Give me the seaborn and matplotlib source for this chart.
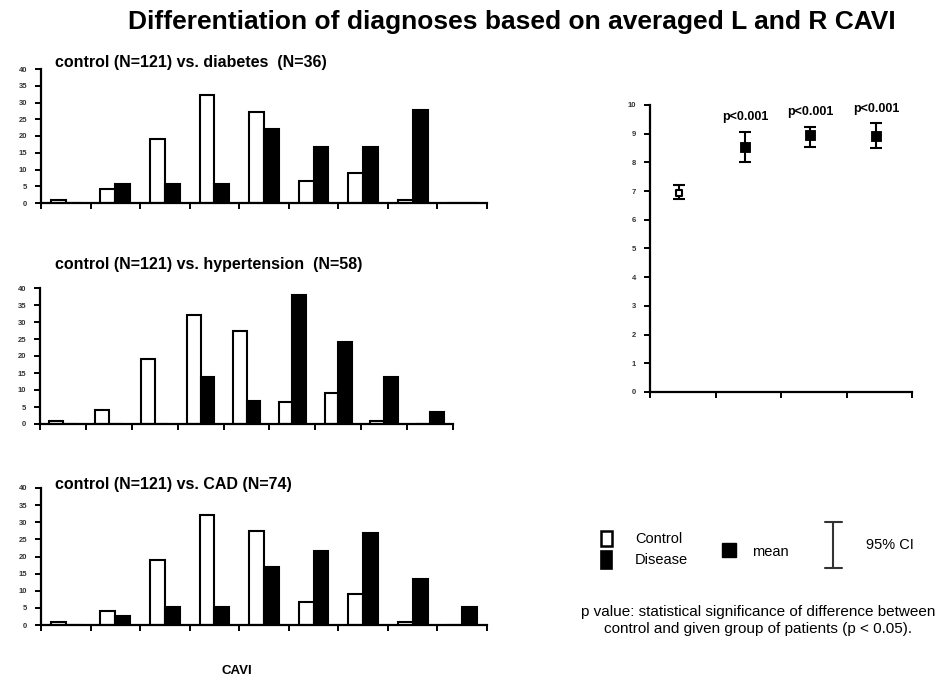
import numpy as np
import pandas as pd
import matplotlib
matplotlib.use("Agg")
import matplotlib.pyplot as plt
from matplotlib.patches import Rectangle
import seaborn as sns

sns.set_style("ticks")
plt.rcParams["font.family"] = ["Liberation Sans", "DejaVu Sans"]
plt.rcParams["text.color"] = "black"

# CAVI classes (percentage of patients in each class)
cavi_bins = ["c1", "c2", "c3", "c4", "c5", "c6", "c7", "c8", "c9"]
control_pct = [0.8, 4.1, 19.0, 32.2, 27.3, 6.6, 9.1, 0.8, 0.0]
diabetes_pct = [0.0, 5.6, 5.6, 5.6, 22.2, 16.7, 16.7, 27.8, 0.0]
hypertension_pct = [0.0, 0.0, 0.0, 13.8, 6.9, 37.9, 24.1, 13.8, 3.4]
cad_pct = [0.0, 2.7, 5.4, 5.4, 16.9, 21.6, 27.0, 13.5, 5.4]

panel_titles = [
    "control (N=121) vs. diabetes  (N=36)",
    "control (N=121) vs. hypertension  (N=58)",
    "control (N=121) vs. CAD (N=74)",
]

# mean CAVI with 95% confidence interval per group
groups = ["control", "diabetes", "hypertension", "CAD"]
cavi_mean = [6.95, 8.55, 8.95, 8.92]
ci_low = [6.72, 8.02, 8.55, 8.49]
ci_high = [7.20, 9.07, 9.24, 9.36]
p_labels = ["", "p<0.001", "p<0.001", "p<0.001"]

W, H = 950, 680
fig = plt.figure(figsize=(W / 100, H / 100), dpi=100)


def box(x0, y_top, x1, y_bot):
    return [x0 / W, 1 - y_bot / H, (x1 - x0) / W, (y_bot - y_top) / H]


tick_font = dict(fontsize=5.5, fontweight="bold", color="#333333")


def style_axes(ax):
    for s in ("top", "right"):
        ax.spines[s].set_visible(False)
    for s in ("left", "bottom"):
        ax.spines[s].set_linewidth(1.6)
        ax.spines[s].set_color("black")
    ax.tick_params(axis="both", direction="out", length=4, width=1.4,
                   colors="black", pad=6)
    for lab in ax.get_yticklabels():
        lab.set_fontsize(tick_font["fontsize"])
        lab.set_fontweight(tick_font["fontweight"])
        lab.set_color(tick_font["color"])


hist_boxes = [box(41, 69, 487, 203), box(40, 288, 453, 424), box(41, 488, 487, 625)]
disease_sets = [diabetes_pct, hypertension_pct, cad_pct]
title_y = [63, 265, 485]

for bx, dis, title, ty in zip(hist_boxes, disease_sets, panel_titles, title_y):
    ax = fig.add_axes(bx)
    df = pd.DataFrame({
        "bin": cavi_bins * 2,
        "group": ["Control"] * len(cavi_bins) + ["Disease"] * len(cavi_bins),
        "pct": control_pct + dis,
    })
    sns.barplot(data=df, x="bin", y="pct", hue="group", order=cavi_bins,
                palette={"Control": "white", "Disease": "black"}, saturation=1,
                edgecolor="black", linewidth=1.5, width=0.6, errorbar=None,
                legend=False, ax=ax)
    ax.set_xlim(-0.5, len(cavi_bins) - 0.5)
    ax.set_ylim(0, 40)
    ax.set_xticks(np.arange(len(cavi_bins) + 1) - 0.5)
    ax.set_xticklabels([])
    ax.set_yticks(np.arange(0, 41, 5))
    ax.set_xlabel("")
    ax.set_ylabel("")
    style_axes(ax)
    fig.text(55 / W, 1 - ty / H, title, fontsize=11.5, fontweight="bold",
             ha="left", va="center")

# mean CAVI panel
ax4 = fig.add_axes(box(650, 105, 912, 392))
pos = np.arange(len(groups)) + 0.45
mean_arr = np.array(cavi_mean)
yerr = [mean_arr - np.array(ci_low), np.array(ci_high) - mean_arr]
ax4.errorbar(pos, mean_arr, yerr=yerr, fmt="none", ecolor="black",
             elinewidth=1.5, capsize=4, capthick=1.5, zorder=2)
sns.scatterplot(x=pos[1:], y=mean_arr[1:], marker="s", s=60, color="black",
                edgecolor="black", ax=ax4, zorder=3)
sns.scatterplot(x=pos[:1], y=mean_arr[:1], marker="s", s=22, color="white",
                edgecolor="black", linewidth=1.5, ax=ax4, zorder=3)
for x, top, lab in zip(pos, ci_high, p_labels):
    if lab:
        ax4.text(x, top + 0.5, lab, ha="center", va="center", fontsize=9,
                 fontweight="bold")
ax4.set_xlim(0, len(groups))
ax4.set_ylim(0, 10)
ax4.set_xticks(np.arange(len(groups) + 1))
ax4.set_xticklabels([])
ax4.set_yticks(np.arange(0, 11, 1))
style_axes(ax4)

# overall title and axis label
fig.text(512 / W, 1 - 22 / H, "Differentiation of diagnoses based on averaged L and R CAVI",
         fontsize=19, fontweight="bold", ha="center", va="center")
fig.text(237 / W, 1 - 671 / H, "CAVI", fontsize=9.5, fontweight="bold",
         ha="center", va="center")

# legend and note drawn on a pixel-scaled overlay
lg = fig.add_axes([0, 0, 1, 1])
lg.set_xlim(0, W)
lg.set_ylim(H, 0)
lg.axis("off")
lg.add_patch(Rectangle((601, 531), 11, 15, facecolor="white", edgecolor="black", lw=1.8))
lg.add_patch(Rectangle((601, 551), 11, 18, facecolor="black", edgecolor="black", lw=1.2))
lg.add_patch(Rectangle((722, 543), 14, 14, facecolor="black", edgecolor="black", lw=1))
lg.plot([833, 833], [522, 568], color="#333333", lw=1.5)
lg.plot([825, 842], [522, 522], color="#333333", lw=1.5)
lg.plot([825, 842], [568, 568], color="#333333", lw=1.5)
leg_fs = 10.5
lg.text(635, 539, "Control", fontsize=leg_fs, ha="left", va="center")
lg.text(635, 560, "Disease", fontsize=leg_fs, ha="left", va="center")
lg.text(752, 552, "mean", fontsize=leg_fs, ha="left", va="center")
lg.text(866, 545, "95% CI", fontsize=leg_fs, ha="left", va="center")
lg.text(758, 612, "p value: statistical significance of difference between",
        fontsize=11, ha="center", va="center")
lg.text(758, 629, "control and given group of patients (p < 0.05).",
        fontsize=11, ha="center", va="center")

fig.savefig("out.png", dpi=100)
